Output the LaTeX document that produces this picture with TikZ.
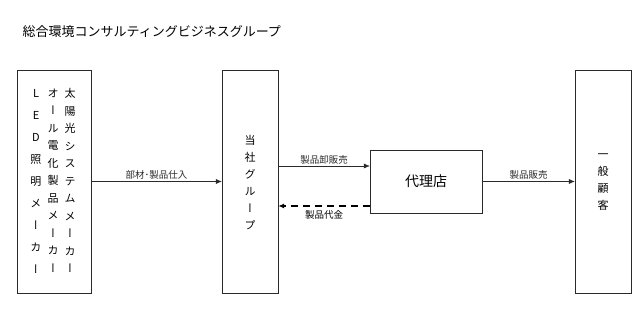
\documentclass[tikz,border=0pt]{standalone}
\usepackage{fontspec}
\setmainfont{Noto Sans CJK JP}
\newfontfamily\jpvert[RawFeature=+vert]{Noto Sans CJK JP}
\usepackage{tikz}
\usetikzlibrary{arrows.meta,positioning}
\definecolor{FlowLine}{HTML}{2A2A2A}

\begin{document}
\begin{tikzpicture}[
    x=1pt, y=1pt,
    tallbox/.style={
      draw=FlowLine,
      minimum width=#1,
      minimum height=223pt,
      inner sep=0pt
    },
    box/.style={
      draw=FlowLine,
      minimum width=112pt,
      minimum height=63pt,
      font=\fontsize{14}{16}\selectfont
    },
    vtext/.style={
      align=center,
      inner sep=0pt,
      font=\jpvert\fontsize{11}{#1}\selectfont
    },
    arr/.style={
      -{Latex[length=6pt,width=5pt]},
      color=FlowLine
    },
    note/.style={
      font=\fontsize{9.5}{11}\selectfont,
      inner sep=2pt
    }
  ]
  \useasboundingbox (0,0) rectangle (640,310);

  % Title
  \node[anchor=west,font=\fontsize{13}{15}\selectfont] (title) at (19,278)
    {総合環境コンサルティングビジネスグループ};

  % Makers
  \node[tallbox=74pt] (makers) at (54,128.5) {};
  \node[vtext=17.5pt] (solar) at (70,129.5)
    {太\\陽\\光\\シ\\ス\\テ\\ム\\メ\\ー\\カ\\ー};
  \node[vtext=17.5pt] (denka) at (53,129.5)
    {オ\\ー\\ル\\電\\化\\製\\品\\メ\\ー\\カ\\ー};
  \node[vtext=22.1pt] (led) at (36,128.5)
    {L\\E\\D\\照\\明\\メ\\ー\\カ\\ー};

  % Our group
  \node[tallbox=56pt] (group) at (250,128.5) {};
  \node[vtext=17pt] (grouplabel) at (250,127.5)
    {当\\社\\グ\\ル\\ー\\プ};

  % Agent
  \node[box] (agent) at (426,128.5) {代理店};

  % Customer
  \node[tallbox=56pt] (customer) at (603,128.5) {};
  \node[vtext=17pt] (customerlabel) at (603,127.5)
    {一\\般\\顧\\客};

  % Arrows
  \draw[arr] (makers.east) -- (group.west)
    node[midway,above,note] {部材･製品仕入};
  \draw[arr] ([yshift=15.5pt]group.east) -- ([yshift=15.5pt]agent.west)
    node[midway,above,note] {製品卸販売};
  \draw[arr,black,line width=1.4pt,dash pattern=on 7pt off 5pt]
    ([yshift=-24.5pt]agent.west) -- ([yshift=-24.5pt]group.east)
    node[midway,below,note,yshift=-2pt] {製品代金};
  \draw[arr] (agent.east) -- (customer.west)
    node[midway,above,note] {製品販売};
\end{tikzpicture}
\end{document}
